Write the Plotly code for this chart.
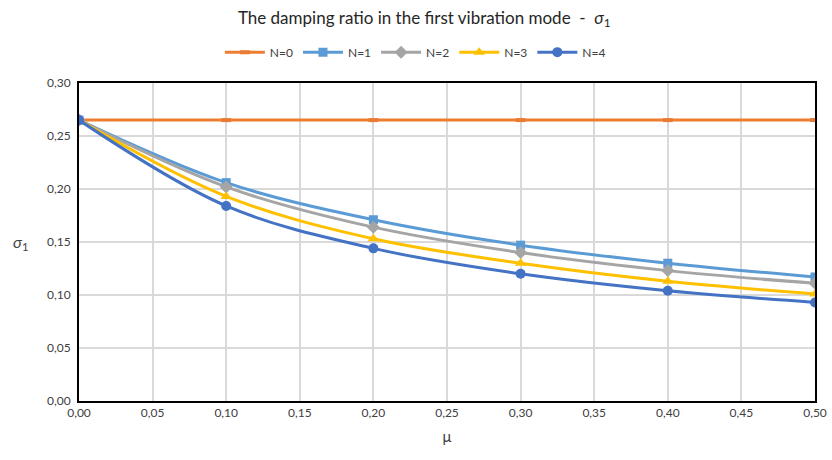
import plotly.graph_objects as go

# mu values on the x axis
mu = [0.0, 0.1, 0.2, 0.3, 0.4, 0.5]

# damping ratio sigma_1 for each N
sigma_n0 = [0.265, 0.265, 0.265, 0.265, 0.265, 0.265]
sigma_n1 = [0.265, 0.206, 0.171, 0.147, 0.130, 0.117]
sigma_n2 = [0.265, 0.202, 0.164, 0.140, 0.123, 0.111]
sigma_n3 = [0.265, 0.193, 0.153, 0.130, 0.113, 0.101]
sigma_n4 = [0.265, 0.184, 0.144, 0.120, 0.104, 0.093]

series_names = ['N=0', 'N=1', 'N=2', 'N=3', 'N=4']

FONT = 'Lato'
TXT = '#404040'

fig = go.Figure()

fig.add_trace(go.Scatter(
    x=mu, y=sigma_n0, name=series_names[0], mode='lines+markers',
    line=dict(color='#ED7D31', width=3, shape='spline'),
    marker=dict(symbol='line-ew', size=7, line=dict(color='#E97B33', width=4))
))
fig.add_trace(go.Scatter(
    x=mu, y=sigma_n1, name=series_names[1], mode='lines+markers',
    line=dict(color='#5B9BD5', width=3, shape='spline'),
    marker=dict(symbol='square', size=9, color='#5B9BD5')
))
fig.add_trace(go.Scatter(
    x=mu, y=sigma_n2, name=series_names[2], mode='lines+markers',
    line=dict(color='#A5A5A5', width=3, shape='spline'),
    marker=dict(symbol='diamond', size=10, color='#A5A5A5')
))
fig.add_trace(go.Scatter(
    x=mu, y=sigma_n3, name=series_names[3], mode='lines+markers',
    line=dict(color='#FFC000', width=3, shape='spline'),
    marker=dict(symbol='triangle-up', size=10, color='#FFC000')
))
fig.add_trace(go.Scatter(
    x=mu, y=sigma_n4, name=series_names[4], mode='lines+markers',
    line=dict(color='#4472C4', width=3, shape='spline'),
    marker=dict(symbol='circle', size=10, color='#4472C4')
))

fig.update_layout(
    width=832, height=460,
    margin=dict(l=79, r=17, t=83, b=59, autoexpand=False),
    paper_bgcolor='white', plot_bgcolor='white',
    separators=',.',
    font=dict(family=FONT, size=12, color=TXT),
    title=dict(
        text='The damping ratio in the first vibration mode  -  <i>σ</i><sub>1</sub>',
        x=0.51, xanchor='center', y=0.961, yanchor='middle',
        font=dict(family=FONT, size=17, color='#262626')
    ),
    legend=dict(
        orientation='h', x=0.457, xanchor='center', y=1.097, yanchor='middle',
        font=dict(family=FONT, size=12, color=TXT),
        itemwidth=40, tracegroupgap=0
    ),
    xaxis=dict(
        range=[0, 0.5], dtick=0.05, tick0=0, tickformat='.2f',
        showgrid=True, gridcolor='#D9D9D9', gridwidth=2,
        showline=True, linecolor='black', linewidth=2, mirror=True,
        zeroline=False, ticks='', automargin=False,
        title=dict(text='μ', font=dict(family=FONT, size=15, color=TXT), standoff=12)
    ),
    yaxis=dict(
        range=[0, 0.30], dtick=0.05, tick0=0, tickformat='.2f',
        showgrid=True, gridcolor='#D9D9D9', gridwidth=2,
        showline=True, linecolor='black', linewidth=2, mirror=True,
        zeroline=False, ticks='', ticklabelstandoff=4, automargin=False
    ),
    annotations=[dict(
        text='<i>σ</i><sub>1</sub>', xref='paper', yref='paper',
        x=-0.080, y=0.5, xanchor='center', yanchor='middle', showarrow=False,
        font=dict(family=FONT, size=16, color=TXT)
    )]
)

# drop the default page margin so the figure fills the window exactly
fig.write_html('out.html', config={'displayModeBar': False},
               post_script="document.body.style.margin = '0';")
